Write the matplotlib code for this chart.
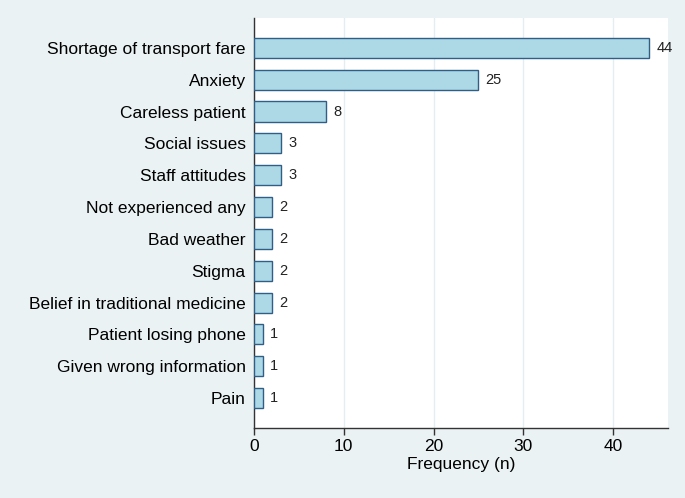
import matplotlib.pyplot as plt
import numpy as np

plt.rcParams['font.family'] = ['Liberation Sans', 'DejaVu Sans']

categories = ["Shortage of transport fare", "Anxiety", "Careless patient", "Social issues",
              "Staff attitudes", "Not experienced any", "Bad weather", "Stigma",
              "Belief in traditional medicine", "Patient losing phone",
              "Given wrong information", "Pain"]
counts = [44, 25, 8, 3, 3, 2, 2, 2, 2, 1, 1, 1]
xticks = [0, 10, 20, 30, 40]

bg = "#eaf2f3"
fig = plt.figure(figsize=(6.85, 4.98), dpi=100, facecolor=bg)
ax = fig.add_axes([0.3708, 0.1406, 0.975 - 0.3708, 0.964 - 0.1406])
ax.set_facecolor("white")

y = np.arange(len(categories))
ax.barh(y, counts, height=0.63, color="#add8e6", edgecolor="#2f5f86", linewidth=1.0, zorder=3)
for yi, c in zip(y, counts):
    ax.text(c + 0.8, yi, str(c), va="center", ha="left", fontsize=10.5, color="#222222")

ax.set_yticks(y)
ax.set_yticklabels(categories, fontsize=12.5)
ax.set_ylim(len(categories) - 1 + 0.94, -0.94)
ax.set_xlim(0, 46.1)
ax.set_xticks(xticks)
ax.tick_params(axis="x", labelsize=12.5, length=5, width=1, color="#333333", pad=3)
ax.tick_params(axis="y", length=0, pad=6)
ax.set_xlabel("Frequency (n)", fontsize=12.5, labelpad=2)

ax.grid(axis="x", color="#e4eef0", linewidth=1, zorder=0)
for s in ["top", "right"]:
    ax.spines[s].set_visible(False)
for s in ["left", "bottom"]:
    ax.spines[s].set_color("#333333")
    ax.spines[s].set_linewidth(1.0)

plt.savefig("out.png", dpi=100, facecolor=bg)
